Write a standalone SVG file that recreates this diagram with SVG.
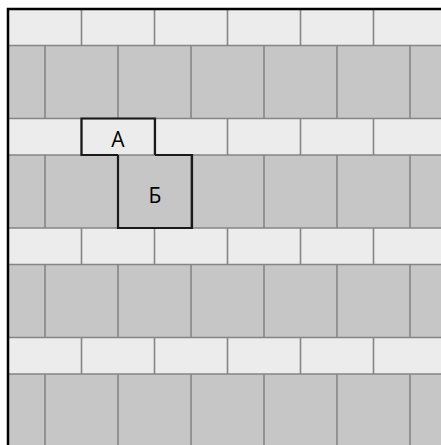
<svg xmlns="http://www.w3.org/2000/svg" width="441" height="445" viewBox="0 0 441 445">
<style>
.l{fill:#ececec}
.d{fill:#c6c6c6}
.g{stroke:#858585;stroke-width:1.6;fill:none}
.o{stroke:#1a1a1a;stroke-width:2.2;fill:none;stroke-linejoin:miter}
.b{stroke:#000;stroke-width:2.5;fill:none}
.t{font-family:"Open Sans","Noto Sans",sans-serif;font-size:21px;fill:#000;text-anchor:middle}
</style>
<rect x="0" y="0" width="441" height="445" fill="#fff"/>
<g id="rows">
<rect class="l" x="8" y="9" width="433" height="36.5"/>
<rect class="d" x="8" y="45.5" width="433" height="73"/>
<rect class="l" x="8" y="118.5" width="433" height="36.5"/>
<rect class="d" x="8" y="155" width="433" height="73"/>
<rect class="l" x="8" y="228" width="433" height="36.5"/>
<rect class="d" x="8" y="264.5" width="433" height="73"/>
<rect class="l" x="8" y="337.5" width="433" height="36.5"/>
<rect class="d" x="8" y="374" width="433" height="71"/>
</g>
<g id="joints" class="g">
<path d="M8,45.5H441M8,118.5H441M8,155H441M8,228H441M8,264.5H441M8,337.5H441M8,374H441"/>
<path d="M81.5,9V45.5M154.5,9V45.5M227.5,9V45.5M300.5,9V45.5M373.5,9V45.5"/>
<path d="M81.5,118.5V155M154.5,118.5V155M227.5,118.5V155M300.5,118.5V155M373.5,118.5V155"/>
<path d="M81.5,228V264.5M154.5,228V264.5M227.5,228V264.5M300.5,228V264.5M373.5,228V264.5"/>
<path d="M81.5,337.5V374M154.5,337.5V374M227.5,337.5V374M300.5,337.5V374M373.5,337.5V374"/>
<path d="M45,45.5V118.5M118,45.5V118.5M191,45.5V118.5M264,45.5V118.5M337,45.5V118.5M410,45.5V118.5"/>
<path d="M45,155V228M118,155V228M191,155V228M264,155V228M337,155V228M410,155V228"/>
<path d="M45,264.5V337.5M118,264.5V337.5M191,264.5V337.5M264,264.5V337.5M337,264.5V337.5M410,264.5V337.5"/>
<path d="M45,374V445M118,374V445M191,374V445M264,374V445M337,374V445M410,374V445"/>
</g>
<g id="border" class="b">
<path d="M8,445V9H441"/>
</g>
<g id="nodeA">
<path class="o" d="M118,155H81.5V118.5H155V155"/>
<text class="t" x="118" y="147">А</text>
</g>
<g id="nodeB">
<path class="o" d="M155,155H192V228H118V155"/>
<text class="t" x="155" y="202.5">Б</text>
</g>
</svg>
